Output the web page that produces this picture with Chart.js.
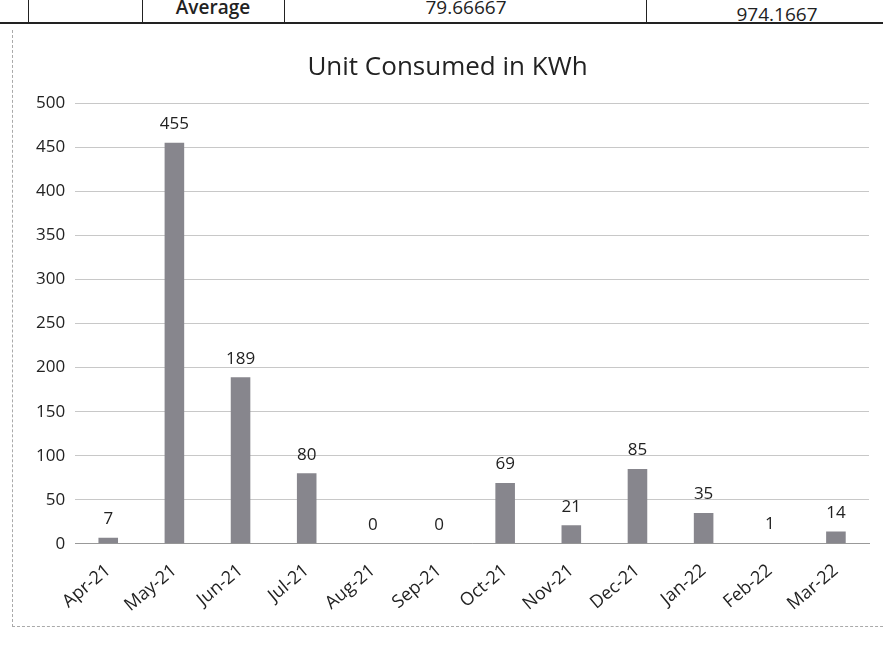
<!DOCTYPE html>
<html>
<head>
<meta charset="utf-8">
<script src="https://cdn.jsdelivr.net/npm/chart.js@4/dist/chart.umd.min.js"></script>
<style>
  body { margin: 0; background: #fff; width: 883px; height: 662px; overflow: hidden; font-family: "Open Sans", sans-serif; position: relative; }
  .row { position: absolute; left: 0; top: -22px; width: 900px; height: 44px; border-bottom: 2px solid #222; }
  .row div { position: absolute; top: 0; height: 44px; border-left: 1.5px solid #222; font-size: 19px; color: #222; text-align: center; line-height: 58px; }
  .frame { position: absolute; left: 12px; top: 30px; width: 890px; height: 596px; border-left: 1px dashed #aaa; border-bottom: 1px dashed #aaa; }
  #wrap { position: absolute; left: 14px; top: 36px; width: 869px; height: 592px; }
</style>
</head>
<body>
<div class="row">
  <div style="left:28px;width:85px;"></div>
  <div style="left:142px;width:140px;font-weight:600;">Average</div>
  <div style="left:284px;width:362px;">79.66667</div>
  <div style="left:646px;width:260px;line-height:72px;">974.1667</div>
</div>
<div class="frame"></div>
<div id="wrap"><canvas id="c"></canvas></div>
<script>
const months = ['Apr-21', 'May-21', 'Jun-21', 'Jul-21', 'Aug-21', 'Sep-21', 'Oct-21', 'Nov-21', 'Dec-21', 'Jan-22', 'Feb-22', 'Mar-22'];
const units = [7, 455, 189, 80, 0, 0, 69, 21, 85, 35, 1, 14];
const yTicks = [0, 50, 100, 150, 200, 250, 300, 350, 400, 450, 500];

// values above bars, like Excel data labels
const barLabels = {
    id: 'barLabels',
    afterDatasetsDraw(chart) {
        const ctx = chart.ctx;
        const meta = chart.getDatasetMeta(0);
        ctx.save();
        ctx.font = '17px "Open Sans", sans-serif';
        ctx.fillStyle = '#222';
        ctx.textAlign = 'center';
        ctx.textBaseline = 'bottom';
        meta.data.forEach((bar, i) => {
            ctx.fillText(units[i], bar.x, bar.y - 10);
        });
        ctx.restore();
    }
};

new Chart(document.getElementById('c'), {
    type: 'bar',
    data: {
        labels: months,
        datasets: [{
            data: units,
            backgroundColor: '#87868d',
            barPercentage: 0.37,
            categoryPercentage: 0.8
        }]
    },
    options: {
        responsive: true,
        maintainAspectRatio: false,
        animation: false,
        layout: { padding: { left: 12, right: 14, top: 6, bottom: 4 } },
        plugins: {
            legend: { display: false },
            tooltip: { enabled: false },
            title: {
                display: true,
                text: 'Unit Consumed in KWh',
                color: '#222',
                font: { family: '"Open Sans", sans-serif', size: 26, weight: 'normal' },
                padding: { top: 10, bottom: 20 }
            }
        },
        scales: {
            x: {
                grid: { display: false },
                border: { display: true, color: '#999' },
                ticks: {
                    color: '#222',
                    font: { family: '"Open Sans", sans-serif', size: 18 },
                    maxRotation: 40,
                    minRotation: 40,
                    padding: 8
                }
            },
            y: {
                min: 0,
                max: 500,
                afterBuildTicks(axis) { axis.ticks = yTicks.map(v => ({ value: v })); },
                grid: { color: '#c8c8c8', drawTicks: false },
                border: { display: false },
                ticks: {
                    color: '#222',
                    font: { family: '"Open Sans", sans-serif', size: 17 },
                    padding: 10
                }
            }
        }
    },
    plugins: [barLabels]
});
</script>
</body>
</html>
